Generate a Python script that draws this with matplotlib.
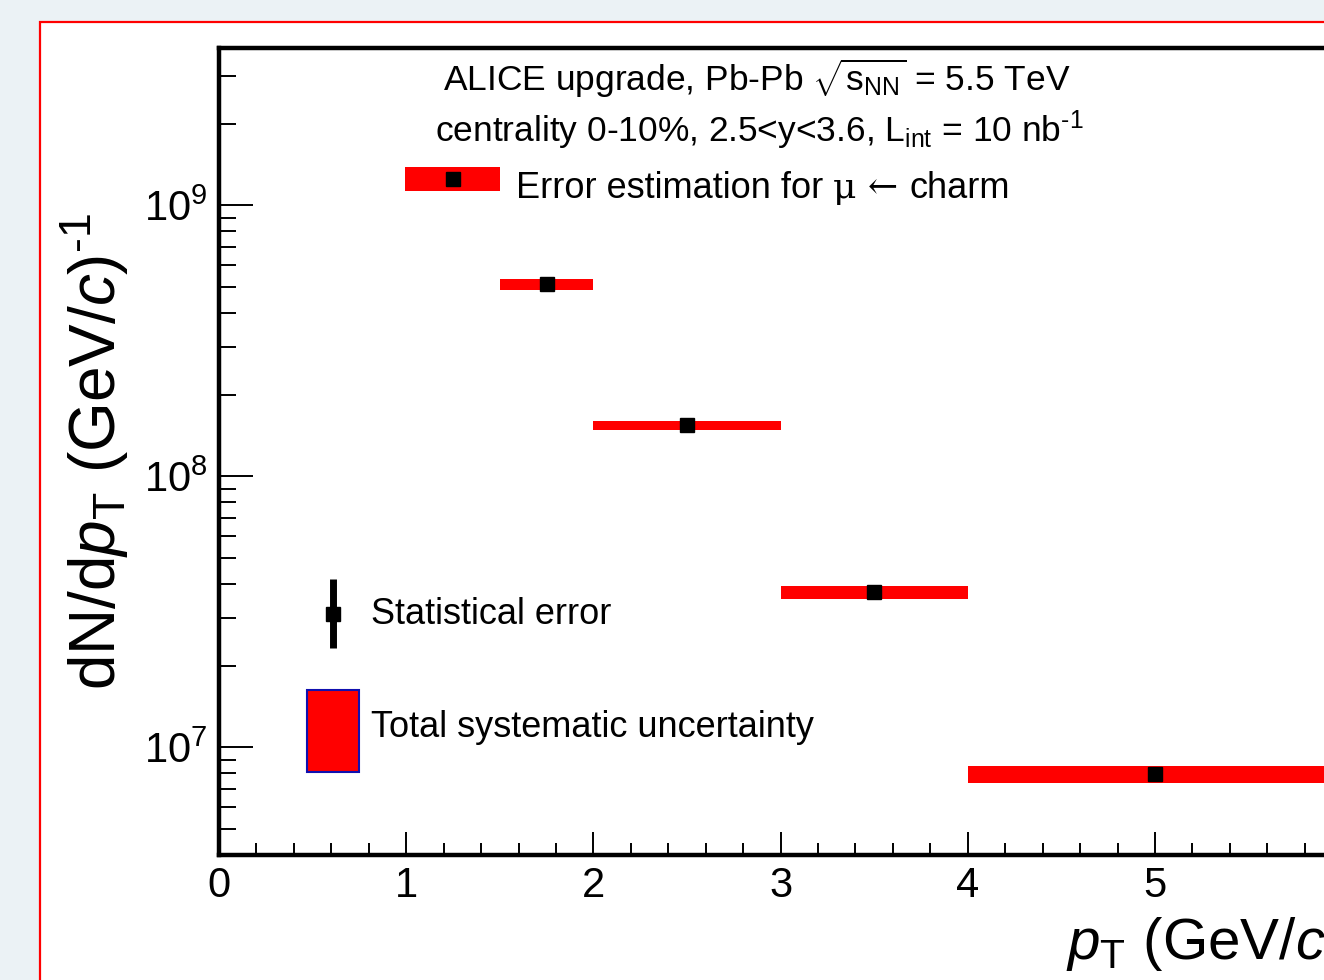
import numpy as np
import matplotlib
matplotlib.use("Agg")
import matplotlib.pyplot as plt
from matplotlib.patches import Rectangle
from matplotlib.lines import Line2D
from matplotlib.ticker import MultipleLocator, LogLocator, NullFormatter

plt.rcParams['font.family'] = ['Liberation Sans', 'DejaVu Sans']
plt.rcParams['mathtext.fontset'] = 'custom'
plt.rcParams['mathtext.rm'] = 'Liberation Sans'
plt.rcParams['mathtext.it'] = 'Liberation Sans:italic'

# pT bins and yields
bin_lo = [1.5, 2.0, 3.0, 4.0]
bin_hi = [2.0, 3.0, 4.0, 6.0]
yields = [5.1e8, 1.54e8, 3.73e7, 7.95e6]
syst_rel = [0.048, 0.039, 0.055, 0.075]
stat_rel = [0.01, 0.01, 0.012, 0.015]

lo = np.array(bin_lo)
hi = np.array(bin_hi)
y = np.array(yields)
centers = (lo + hi) / 2
widths = hi - lo
syst = y * np.array(syst_rel)
stat = y * np.array(stat_rel)

W, H = 1324, 980
fig = plt.figure(figsize=(W / 100, H / 100), dpi=100)
fig.patch.set_facecolor('#ebf2f5')

# white panel with red border
panel = Rectangle((40 / W, -0.05), 1.2, 1 - 22 / H + 0.05, transform=fig.transFigure,
                  facecolor='white', edgecolor='#ff0000', lw=1.6, zorder=-5)
fig.add_artist(panel)

xmax = 6.0
px_per_unit = 187.2
ax = fig.add_axes([219 / W, 1 - 855 / H, xmax * px_per_unit / W, (855 - 48) / H])
ax.set_facecolor('white')

ax.bar(centers, 2 * syst, bottom=y - syst, width=widths, color='#ff0000',
       edgecolor='none', zorder=2)
ax.errorbar(centers, y, yerr=stat, fmt='s', color='black', ms=10.5,
            elinewidth=5, capsize=0, zorder=3)

ax.set_yscale('log')
ax.set_xlim(0, xmax)
ax.set_ylim(4.0e6, 3.8e9)

ax.xaxis.set_major_locator(MultipleLocator(1))
ax.xaxis.set_minor_locator(MultipleLocator(0.2))
ax.yaxis.set_major_locator(LogLocator(base=10))
ax.yaxis.set_minor_locator(LogLocator(base=10, subs=np.arange(2, 10)))
ax.yaxis.set_minor_formatter(NullFormatter())

for s in ax.spines.values():
    s.set_linewidth(3.2)
ax.tick_params(axis='both', which='both', direction='in', top=False, right=False,
               width=1.4, labelsize=30, pad=8)
ax.tick_params(axis='x', which='major', length=16.5)
ax.tick_params(axis='x', which='minor', length=8.6)
ax.tick_params(axis='y', which='major', length=24.5)
ax.tick_params(axis='y', which='minor', length=12.2)

# axis titles
ax.text((95 - 219) / px_per_unit / xmax, 0.5, r'dN/d$p_{\mathrm{T}}$ (GeV/$c$)$^{\text{-1}}$',
        transform=ax.transAxes, rotation=90, ha='center', va='center', fontsize=46)
ax.set_xlabel(r'$p_{\mathrm{T}}$ (GeV/$c$)', fontsize=42, loc='right')
ax.xaxis.set_label_coords(1.0, -(915 - 855) / (855 - 48))
ax.xaxis.label.set_va('top')

fs = 25.5
fig.text(757 / W, 1 - 91 / H, r'ALICE upgrade, Pb-Pb $\sqrt{\mathrm{s}_{\mathrm{NN}}}$ = 5.5 TeV',
         ha='center', va='baseline', fontsize=fs)
fig.text(759 / W, 1 - 142 / H, r'centrality 0-10%, 2.5<y<3.6, L$_{\mathrm{int}}$ = 10 nb$^{\text{-1}}$',
         ha='center', va='baseline', fontsize=fs)

# legend: error estimation
fig.add_artist(Rectangle((405 / W, 1 - 191 / H), 95 / W, 24 / H, transform=fig.transFigure,
                         facecolor='#ff0000', edgecolor='none'))
fig.add_artist(Line2D([453 / W], [1 - 179 / H], transform=fig.transFigure, marker='s',
                      color='black', ms=10.5, ls='none'))
renderer = fig.canvas.get_renderer()
t1 = fig.text(516 / W, 1 - 198 / H, 'Error estimation for ', ha='left', va='baseline',
              fontsize=26)
x_next = t1.get_window_extent(renderer).x1 / W
t2 = fig.text(x_next, 1 - 198 / H, 'μ ← ', ha='left', va='baseline', fontsize=26,
              family='DejaVu Serif')
x_next = t2.get_window_extent(renderer).x1 / W
fig.text(x_next, 1 - 198 / H, 'charm', ha='left', va='baseline', fontsize=26)

# legend: statistical error
fig.add_artist(Line2D([333 / W, 333 / W], [1 - 579 / H, 1 - 648 / H], transform=fig.transFigure,
                      color='black', lw=5, solid_capstyle='butt'))
fig.add_artist(Line2D([333 / W], [1 - 614 / H], transform=fig.transFigure, marker='s',
                      color='black', ms=10.5, ls='none'))
fig.text(371 / W, 1 - 614 / H, 'Statistical error', ha='left', va='center', fontsize=26)

# legend: systematic uncertainty
fig.add_artist(Rectangle((307 / W, 1 - 772 / H), 52 / W, 82 / H, transform=fig.transFigure,
                         facecolor='#ff0000', edgecolor='#1010b0', lw=1.5))
fig.text(371 / W, 1 - 727 / H, 'Total systematic uncertainty', ha='left', va='center',
         fontsize=26)

fig.savefig('out.png', dpi=100, facecolor=fig.get_facecolor())
